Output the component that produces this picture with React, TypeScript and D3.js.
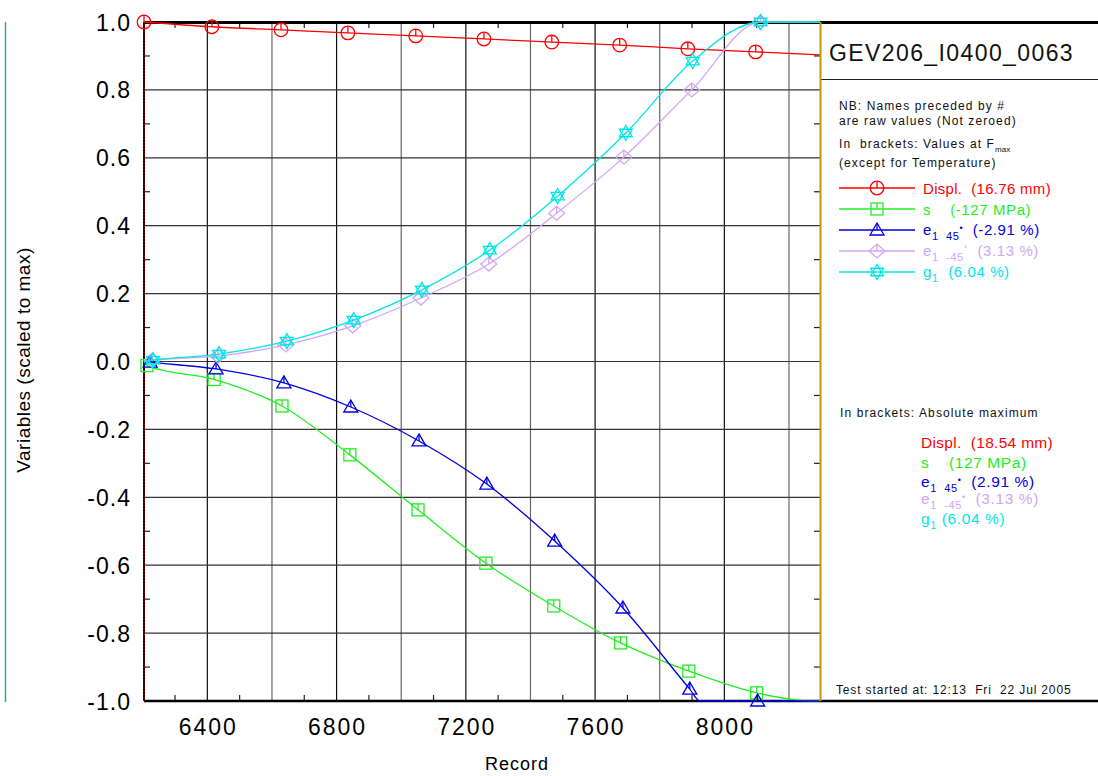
import * as d3 from 'd3'
import React from 'react'

// records (x) and scaled values (y)
const displRec = [6204, 6414, 6628, 6835, 7045, 7256, 7466, 7676, 7887, 8097, 8296]
const displVal = [1.0, 0.986, 0.977, 0.968, 0.959, 0.95, 0.941, 0.932, 0.921, 0.912, 0.903]

const sigmaRec = [6204, 6213, 6421, 6631, 6841, 7052, 7262, 7472, 7679, 7890, 8100, 8270, 8296]
const sigmaVal = [-0.002, -0.012, -0.053, -0.131, -0.275, -0.437, -0.594, -0.72, -0.829, -0.912, -0.976, -1.0, -1.0]

const e45Rec = [6204, 6223, 6427, 6637, 6844, 7055, 7265, 7475, 7686, 7893, 7924, 8103, 8296]
const e45Val = [0.0, -0.002, -0.022, -0.063, -0.134, -0.234, -0.361, -0.529, -0.726, -0.965, -1.0, -1.0, -1.0]

const em45Rec = [6204, 6229, 6433, 6643, 6850, 7061, 7271, 7481, 7689, 7899, 8112, 8296]
const em45Val = [0.0, 0.004, 0.016, 0.049, 0.105, 0.187, 0.287, 0.437, 0.602, 0.8, 1.0, 1.0]

const gRec = [6204, 6232, 6436, 6646, 6853, 7064, 7274, 7484, 7695, 7902, 8112, 8296]
const gVal = [0.0, 0.004, 0.022, 0.06, 0.122, 0.211, 0.328, 0.487, 0.673, 0.885, 1.0, 1.0]

// which points carry a marker
const displMarks = [0, 1, 2, 3, 4, 5, 6, 7, 8, 9]
const sigmaMarks = [1, 2, 3, 4, 5, 6, 7, 8, 9, 10]
const e45Marks = [1, 2, 3, 4, 5, 6, 7, 8, 9, 11]
const em45Marks = [1, 2, 3, 4, 5, 6, 7, 8, 9, 10]
const gMarks = [1, 2, 3, 4, 5, 6, 7, 8, 9, 10]

const xLabelTicks = [6400, 6800, 7200, 7600, 8000]
const xGridTicks = [6400, 6600, 6800, 7000, 7200, 7400, 7600, 7800, 8000, 8200]
const xMinorTicks = [6300, 6500, 6700, 6900, 7100, 7300, 7500, 7700, 7900, 8100]
const yLabelTicks = [1.0, 0.8, 0.6, 0.4, 0.2, 0.0, -0.2, -0.4, -0.6, -0.8, -1.0]
const yMinorTicks = [0.9, 0.7, 0.5, 0.3, 0.1, -0.1, -0.3, -0.5, -0.7, -0.9]

const RED = '#ff0000'
const GREEN = '#22ee22'
const BLUE = '#0000dd'
const LILAC = '#d2a6f6'
const CYAN = '#00e6e6'

const FONT = '"Liberation Sans", Arial, sans-serif'

const L = 144, R = 820, T = 22, B = 701

const x = d3.scaleLinear().domain([6204, 8296]).range([L, R])
const y = d3.scaleLinear().domain([-1, 1]).range([B, T])

type Kind = 'circle' | 'square' | 'triangle' | 'diamond' | 'star'

function Marker({ kind, cx, cy, color }: { kind: Kind; cx: number; cy: number; color: string }) {
  const common = { fill: 'none', stroke: color, strokeWidth: 1.3 }
  if (kind === 'circle')
    return (
      <g transform={`translate(${cx},${cy})`} {...common}>
        <circle r={6.8} />
        <line x1={0} y1={-6.8} x2={0} y2={0} />
      </g>
    )
  if (kind === 'square')
    return (
      <g transform={`translate(${cx},${cy})`} {...common}>
        <rect x={-6} y={-6} width={12} height={12} />
        <line x1={0} y1={-6} x2={0} y2={0} />
      </g>
    )
  if (kind === 'triangle')
    return (
      <g transform={`translate(${cx},${cy})`} {...common}>
        <path d="M0,-7L7,5L-7,5Z" />
        <line x1={0} y1={-7} x2={0} y2={0} />
      </g>
    )
  if (kind === 'diamond')
    return (
      <g transform={`translate(${cx},${cy})`} {...common}>
        <path d="M0,-7L8,0L0,7L-8,0Z" />
        <line x1={0} y1={-7} x2={0} y2={0} />
      </g>
    )
  return (
    <g transform={`translate(${cx},${cy})`} {...common}>
      <path d="M0,-7.5L6.5,3.75L-6.5,3.75Z" />
      <path d="M0,7.5L6.5,-3.75L-6.5,-3.75Z" />
    </g>
  )
}

const series = [
  { rec: displRec, val: displVal, marks: displMarks, color: RED, kind: 'circle' as Kind },
  { rec: sigmaRec, val: sigmaVal, marks: sigmaMarks, color: GREEN, kind: 'square' as Kind },
  { rec: e45Rec, val: e45Val, marks: e45Marks, color: BLUE, kind: 'triangle' as Kind },
  { rec: em45Rec, val: em45Val, marks: em45Marks, color: LILAC, kind: 'diamond' as Kind },
  { rec: gRec, val: gVal, marks: gMarks, color: CYAN, kind: 'star' as Kind }
]

const line = d3
  .line<[number, number]>()
  .x(d => x(d[0]))
  .y(d => y(d[1]))
  .curve(d3.curveMonotoneX)

export default function App() {
  const legendY = [188, 209, 230, 251, 272]
  const small = { fontFamily: FONT, fontSize: 12, letterSpacing: 1.1, fill: '#111', xmlSpace: 'preserve' }

  return (
    <svg width={1098} height={776} xmlSpace="preserve"
      style={{ position: 'absolute', left: 0, top: 0, background: '#fff' }}>
      <rect width={1098} height={776} fill="#fff" />
      {/* outer teal frame line */}
      <line x1={5.5} y1={22} x2={5.5} y2={702} stroke="#3aa39f" strokeWidth={1.5} />

      {/* grid */}
      {xGridTicks.map(t => (
        <line key={'gx' + t} x1={x(t)} x2={x(t)} y1={T} y2={B}
          stroke={xLabelTicks.includes(t) ? '#111' : '#666'} strokeWidth={1.2} />
      ))}
      {yLabelTicks.filter(t => t > -1 && t < 1).map(t => (
        <line key={'gy' + t} x1={L} x2={R} y1={y(t)} y2={y(t)} stroke="#333" strokeWidth={1.2} />
      ))}
      {/* minor ticks */}
      {xMinorTicks.map(t => (
        <g key={'mx' + t} stroke="#222" strokeWidth={1.2}>
          <line x1={x(t)} x2={x(t)} y1={B} y2={B - 6} />
          <line x1={x(t)} x2={x(t)} y1={T} y2={T + 6} />
        </g>
      ))}
      {yMinorTicks.map(t => (
        <g key={'my' + t} stroke="#222" strokeWidth={1.2}>
          <line x1={L} x2={L + 6} y1={y(t)} y2={y(t)} />
          <line x1={R} x2={R - 6} y1={y(t)} y2={y(t)} />
        </g>
      ))}

      {/* frame */}
      <line x1={L} x2={1098} y1={T + 0.5} y2={T + 0.5} stroke="#000" strokeWidth={3} />
      <line x1={L} x2={1098} y1={B} y2={B} stroke="#000" strokeWidth={2.5} />
      <line x1={L} x2={L} y1={T} y2={B} stroke="#300" strokeWidth={2} />
      <line x1={L} x2={L} y1={T} y2={B} stroke="#d00" strokeWidth={1} strokeDasharray="1,2" />
      <line x1={821} x2={1098} y1={79.5} y2={79.5} stroke="#222" strokeWidth={1.2} />

      {/* series */}
      {series.map((s, i) => {
        const pts = s.rec.map((r, j) => [r, s.val[j]] as [number, number])
        return (
          <g key={'s' + i}>
            <path d={line(pts) ?? ''} fill="none" stroke={s.color} strokeWidth={1.3} />
            {s.marks.map(j => (
              <Marker key={j} kind={s.kind} cx={x(s.rec[j])} cy={y(s.val[j])} color={s.color} />
            ))}
          </g>
        )
      })}

      <line x1={R + 0.5} x2={R + 0.5} y1={T} y2={B} stroke="#c89600" strokeWidth={2} />

      {/* axis labels */}
      {yLabelTicks.map(t => (
        <text key={'yl' + t} x={131} y={y(t) + 8.5} textAnchor="end" fontFamily={FONT}
          fontSize={23} letterSpacing={1} fill="#000">{t.toFixed(1)}</text>
      ))}
      {xLabelTicks.map(t => (
        <text key={'xl' + t} x={x(t) + 1} y={735} textAnchor="middle" fontFamily={FONT}
          fontSize={23} letterSpacing={2} fill="#000">{t}</text>
      ))}
      <text x={517} y={770} textAnchor="middle" fontFamily={FONT} fontSize={18} letterSpacing={1}>Record</text>
      <text transform="translate(30,360) rotate(-90)" textAnchor="middle" fontFamily={FONT}
        fontSize={19} letterSpacing={0.5}>Variables (scaled to max)</text>

      {/* legend panel */}
      <text x={829} y={61} fontFamily={FONT} fontSize={23} letterSpacing={1.4} fill="#111">GEV206_I0400_0063</text>
      <text x={839} y={110} {...small}>NB: Names preceded by #</text>
      <text x={839} y={125} {...small}>are raw values (Not zeroed)</text>
      <text x={839} y={148} {...small}>In  brackets: Values at F<tspan fontSize={8} dy={4} letterSpacing={0}>max</tspan></text>
      <text x={839} y={167} {...small}>(except for Temperature)</text>

      {series.map((s, i) => (
        <g key={'lg' + i}>
          <line x1={839} x2={915} y1={legendY[i]} y2={legendY[i]} stroke={s.color} strokeWidth={1.3} />
          <Marker kind={s.kind} cx={877} cy={legendY[i]} color={s.color} />
        </g>
      ))}
      <g fontFamily={FONT} fontSize={15}>
        <text x={923} y={194} fill={RED} letterSpacing={0.3} xmlSpace="preserve">Displ.  (16.76 mm)</text>
        <text x={923} y={215} fill={GREEN} letterSpacing={0.6} xmlSpace="preserve">s    (-127 MPa)</text>
        <text x={923} y={235} fill={BLUE} letterSpacing={0.6} xmlSpace="preserve">e<tspan fontSize={11} dy={5}>1  45</tspan><tspan fontSize={9} dy={-9}>•</tspan><tspan dy={4}>  (-2.91 %)</tspan></text>
        <text x={923} y={256} fill={LILAC} letterSpacing={0.6} xmlSpace="preserve">e<tspan fontSize={11} dy={5}>1  -45</tspan><tspan fontSize={9} dy={-9}>°</tspan><tspan dy={4}>  (3.13 %)</tspan></text>
        <text x={923} y={277} fill={CYAN} letterSpacing={0.6} xmlSpace="preserve">g<tspan fontSize={11} dy={5}>1</tspan><tspan dy={-5}>  (6.04 %)</tspan></text>
      </g>

      <text x={840} y={417} {...small}>In brackets: Absolute maximum</text>
      <g fontFamily={FONT} fontSize={15.5}>
        <text x={921} y={448} fill={RED} letterSpacing={0.3} xmlSpace="preserve">Displ.  (18.54 mm)</text>
        <text x={921} y={468} fill={GREEN} letterSpacing={0.6} xmlSpace="preserve">s    (127 MPa)</text>
        <text x={921} y={487} fill={BLUE} letterSpacing={0.6} xmlSpace="preserve">e<tspan fontSize={11} dy={5}>1  45</tspan><tspan fontSize={9} dy={-9}>•</tspan><tspan dy={4}>  (2.91 %)</tspan></text>
        <text x={921} y={504} fill={LILAC} letterSpacing={0.6} xmlSpace="preserve">e<tspan fontSize={11} dy={5}>1  -45</tspan><tspan fontSize={9} dy={-9}>•</tspan><tspan dy={4}>  (3.13 %)</tspan></text>
        <text x={921} y={524} fill={CYAN} letterSpacing={0.6} xmlSpace="preserve">g<tspan fontSize={11} dy={5}>1</tspan><tspan dy={-5}> (6.04 %)</tspan></text>
      </g>

      <text x={836} y={694} {...small} letterSpacing={0.85}>Test started at: 12:13  Fri  22 Jul 2005</text>
    </svg>
  )
}
